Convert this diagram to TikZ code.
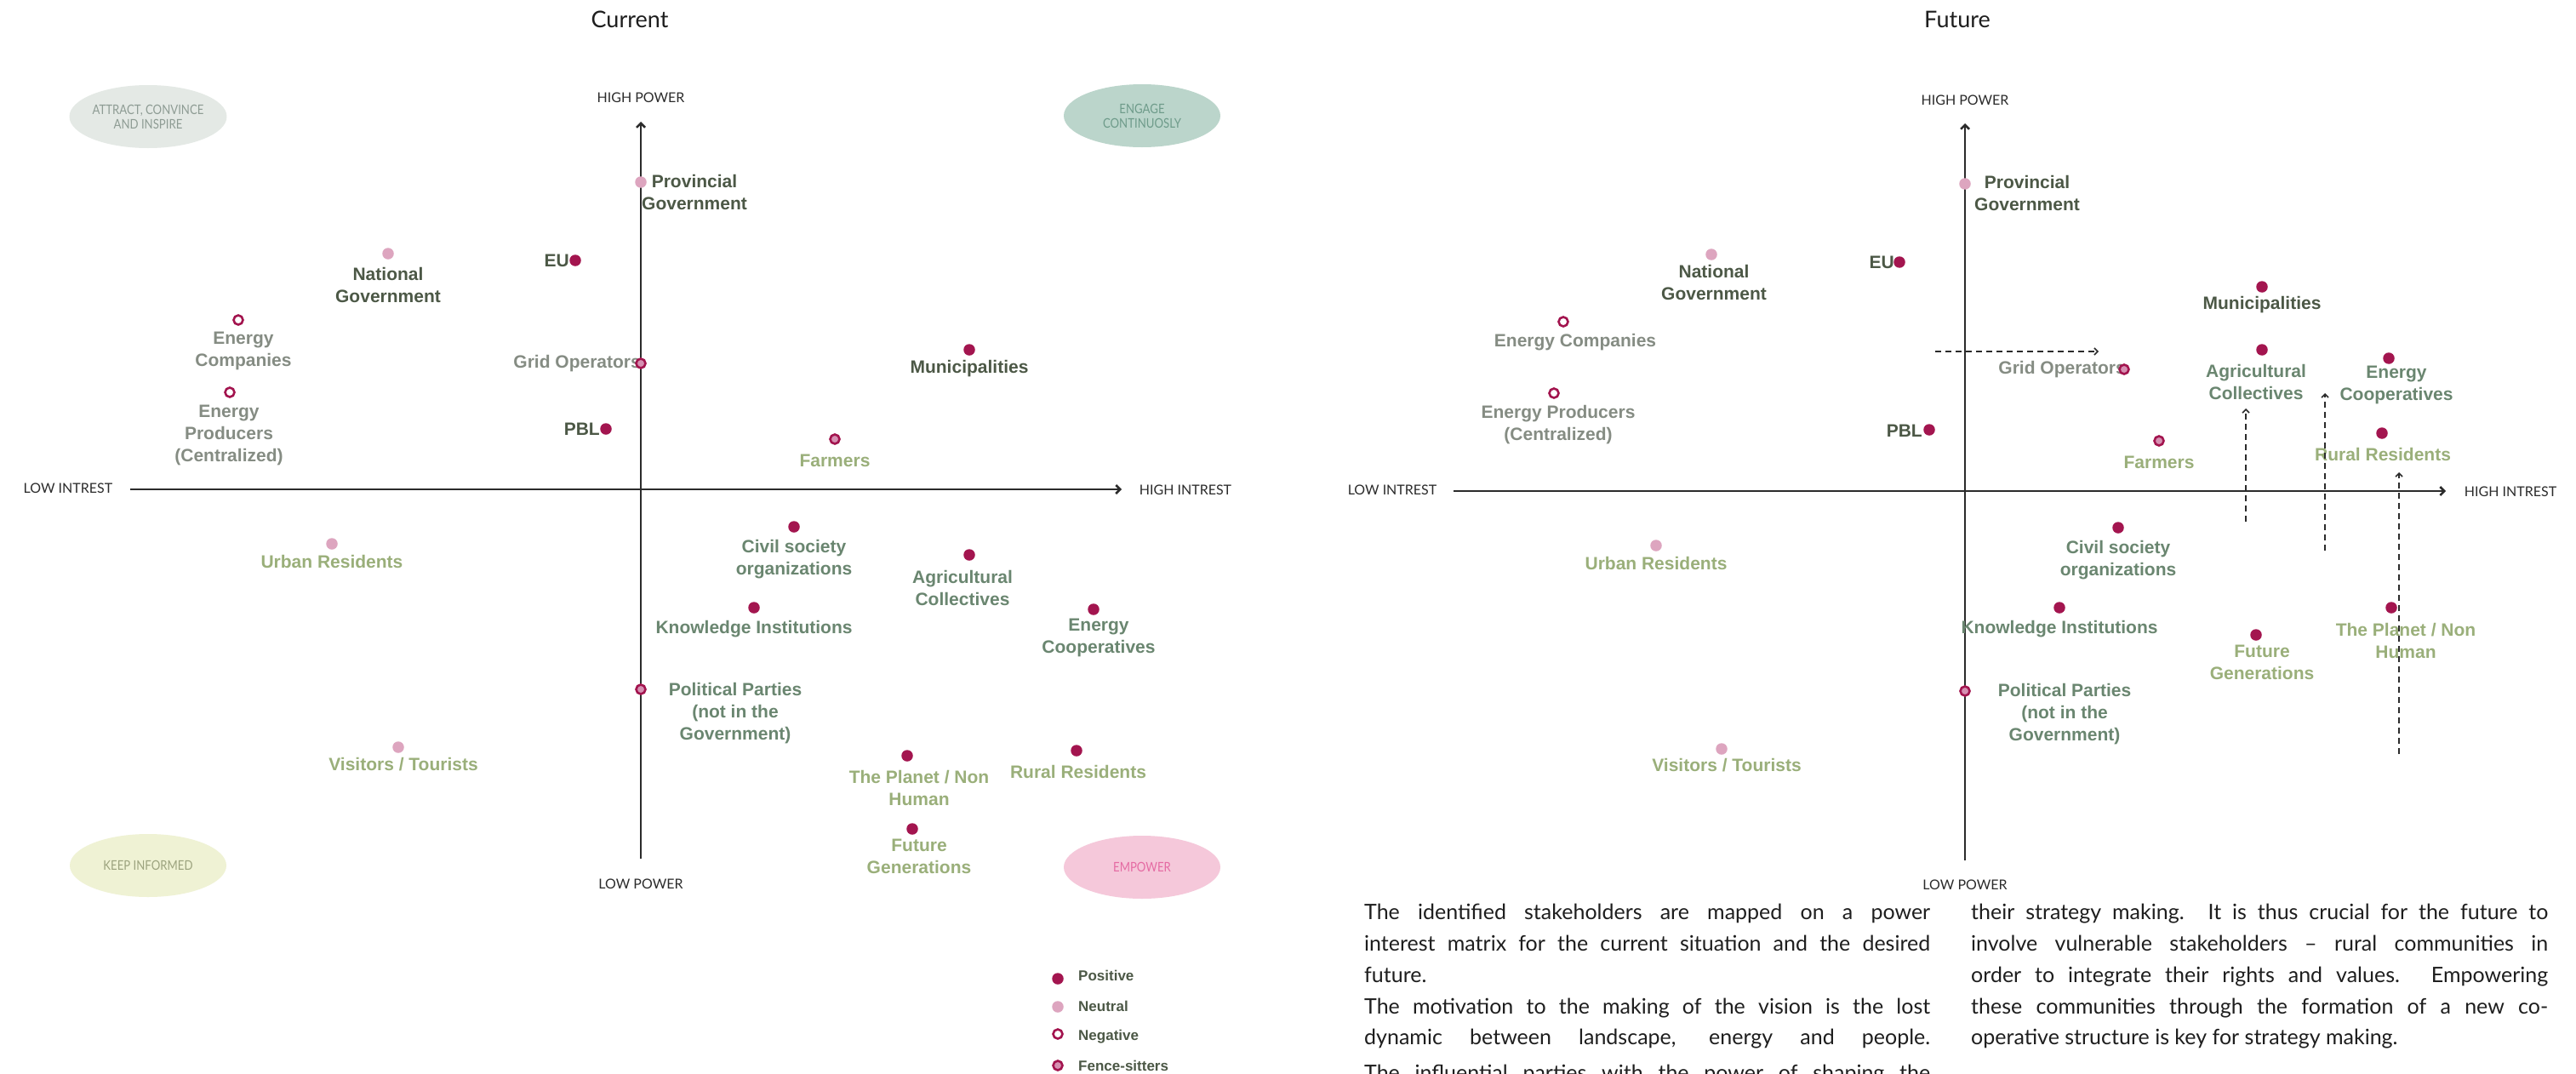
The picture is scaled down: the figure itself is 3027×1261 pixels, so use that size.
\documentclass[tikz,border=0pt]{standalone}
\usepackage{fontspec}
\setmainfont{Lato}
\newfontfamily\lab{Liberation Sans}
\newfontfamily\fut{Lato}[FakeStretch=0.85]
\usetikzlibrary{arrows.meta,shapes.geometric}
\definecolor{cpos}{HTML}{A3154F}
\definecolor{cneu}{HTML}{DDA5BF}
\definecolor{cfen}{HTML}{D690B2}
\definecolor{ldark}{HTML}{4C5846}
\definecolor{lgray}{HTML}{858C83}
\definecolor{lmed}{HTML}{6A8670}
\definecolor{llight}{HTML}{9AAF7A}
\definecolor{axisc}{HTML}{2B2B2B}
\definecolor{bodyc}{HTML}{1E1E1E}
\definecolor{eAfill}{HTML}{E4E9E5}
\definecolor{eAtext}{HTML}{8E9C94}
\definecolor{eBfill}{HTML}{BBD5CB}
\definecolor{eBtext}{HTML}{6E9B8A}
\definecolor{eCfill}{HTML}{EFF2D4}
\definecolor{eCtext}{HTML}{9CA37E}
\definecolor{eDfill}{HTML}{F5C8DA}
\definecolor{eDtext}{HTML}{E56BA3}
\begin{document}
\begin{tikzpicture}[x=1pt,y=-1pt,
  dotpos/.style={circle,fill=cpos,minimum size=13.5pt,inner sep=0pt},
  dotneu/.style={circle,fill=cneu,minimum size=13.5pt,inner sep=0pt},
  dotneg/.style={circle,draw=cpos,fill=white,line width=2.6pt,minimum size=11pt,inner sep=0pt},
  dotfen/.style={circle,draw=cpos,fill=cfen,line width=2.6pt,minimum size=11pt,inner sep=0pt},
  lbl/.style={font=\lab\bfseries\fontsize{21}{26}\selectfont,align=center,inner sep=0pt},
  tdark/.style={text=ldark},
  tgray/.style={text=lgray},
  tmed/.style={text=lmed},
  tlight/.style={text=llight},
  ttl/.style={font=\fontsize{27}{30}\selectfont,text=bodyc,inner sep=0pt},
  axislbl/.style={font=\fontsize{16}{18}\selectfont,text=axisc,inner sep=0pt},
  axisline/.style={draw=axisc,line width=2.5pt,-{Straight Barb[length=5pt,width=10pt]}},
  dasharrow/.style={draw=axisc,line width=1.6pt,dash pattern=on 7pt off 5pt,-{Straight Barb[length=4pt,width=8pt]}},
  quadell/.style={ellipse,minimum width=184pt,minimum height=74pt,inner sep=0pt,align=center,font=\fut\fontsize{15.5}{17}\selectfont},
  bodytxt/.style={font=\fontsize{25}{30}\selectfont,inner sep=0pt,anchor=mid west,text=bodyc},
  legl/.style={font=\lab\bfseries\fontsize{17}{20}\selectfont,text=ldark,anchor=west,inner sep=0pt}
]
\useasboundingbox (0,0) rectangle (3027,1261);
\fill[white] (0,0) rectangle (3027,1261);

% ---------------- titles ----------------
\node[ttl] (tCur) at (740,23) {Current};
\node[ttl] (tFut) at (2300,23) {Future};

% ---------------- quadrant ellipses ----------------
\node[quadell,fill=eAfill,text=eAtext] (qA) at (174,137) {ATTRACT, CONVINCE\\AND INSPIRE};
\node[quadell,fill=eBfill,text=eBtext] (qB) at (1342,136) {ENGAGE\\CONTINUOSLY};
\node[quadell,fill=eCfill,text=eCtext] (qC) at (174,1017) {KEEP INFORMED};
\node[quadell,fill=eDfill,text=eDtext] (qD) at (1342,1019) {EMPOWER};

% ---------------- axes: current ----------------
\coordinate (cVb) at (753,1009);
\coordinate (cVt) at (753,143);
\coordinate (cHl) at (153,575);
\coordinate (cHr) at (1318,575);
\draw[axisline] (cVb) -- (cVt);
\draw[axisline] (cHl) -- (cHr);
\node[axislbl] (cHP) at (753,115) {HIGH POWER};
\node[axislbl] (cLP) at (753,1039) {LOW POWER};
\node[axislbl] (cLI) at (80,574) {LOW INTREST};
\node[axislbl] (cHI) at (1393,576) {HIGH INTREST};

% ---------------- axes: future ----------------
\coordinate (fVb) at (2309,1011);
\coordinate (fVt) at (2309,145);
\coordinate (fHl) at (1708,577);
\coordinate (fHr) at (2874,577);
\draw[axisline] (fVb) -- (fVt);
\draw[axisline] (fHl) -- (fHr);
\node[axislbl] (fHP) at (2309,118) {HIGH POWER};
\node[axislbl] (fLP) at (2309,1040) {LOW POWER};
\node[axislbl] (fLI) at (1636,576) {LOW INTREST};
\node[axislbl] (fHI) at (2950,578) {HIGH INTREST};

% ---------------- labels: current ----------------
\node[lbl,tdark] (cPgovL) at (816,226) {Provincial\\Government};
\node[lbl,tdark,anchor=east] (cEUL) at (669,306) {EU};
\node[lbl,tdark] (cNgovL) at (456,335) {National\\Government};
\node[lbl,tgray] (cEcompL) at (286,412) {Energy\\Companies};
\node[lbl,tgray] (cEprodL) at (269,511) {Energy\\Producers\\(Centralized)};
\node[lbl,tgray,anchor=east] (cGridL) at (753,427) {Grid Operators};
\node[lbl,tdark,anchor=east] (cPblL) at (705,504) {PBL};
\node[lbl,tdark] (cMuniL) at (1139,433) {Municipalities};
\node[lbl,tlight] (cFarmL) at (981,541) {Farmers};
\node[lbl,tlight] (cUrbanL) at (390,660) {Urban Residents};
\node[lbl,tmed] (cCivilL) at (933,657) {Civil society\\organizations};
\node[lbl,tmed] (cAgriL) at (1131,691) {Agricultural\\Collectives};
\node[lbl,tmed] (cKnowL) at (886,739) {Knowledge Institutions};
\node[lbl,tmed] (cEcoopL) at (1291,749) {Energy\\Cooperatives};
\node[lbl,tmed] (cPolL) at (864,838) {Political Parties\\(not in the\\Government)};
\node[lbl,tlight] (cVisitL) at (474,898) {Visitors / Tourists};
\node[lbl,tlight] (cPlanetL) at (1080,926) {The Planet / Non\\Human};
\node[lbl,tlight] (cRuralL) at (1267,907) {Rural Residents};
\node[lbl,tlight] (cFutgenL) at (1080,1006) {Future\\Generations};

% ---------------- dots: current ----------------
\node[dotneu] (cPgov) at (753,214) {};
\node[dotpos] (cEU) at (676,306) {};
\node[dotneu] (cNgov) at (456,298) {};
\node[dotneg] (cEcomp) at (280,376) {};
\node[dotneg] (cEprod) at (270,461) {};
\node[dotfen] (cGrid) at (753,427) {};
\node[dotpos] (cPbl) at (712,504) {};
\node[dotpos] (cMuni) at (1139,411) {};
\node[dotfen] (cFarm) at (981,516) {};
\node[dotneu] (cUrban) at (390,639) {};
\node[dotpos] (cCivil) at (933,619) {};
\node[dotpos] (cAgri) at (1139,652) {};
\node[dotpos] (cKnow) at (886,714) {};
\node[dotpos] (cEcoop) at (1285,716) {};
\node[dotfen] (cPol) at (753,810) {};
\node[dotneu] (cVisit) at (468,878) {};
\node[dotpos] (cPlanet) at (1066,888) {};
\node[dotpos] (cRural) at (1265,882) {};
\node[dotpos] (cFutgen) at (1072,974) {};

% ---------------- labels: future ----------------
\node[lbl,tdark] (fPgovL) at (2382,227) {Provincial\\Government};
\node[lbl,tdark] (fNgovL) at (2014,332) {National\\Government};
\node[lbl,tdark,anchor=east] (fEUL) at (2226,308) {EU};
\node[lbl,tgray] (fEcompL) at (1851,402) {Energy Companies};
\node[lbl,tgray] (fEprodL) at (1831,499) {Energy Producers\\(Centralized)};
\node[lbl,tdark] (fMuniL) at (2658,358) {Municipalities};
\node[lbl,tgray,anchor=east] (fGridL) at (2498,434) {Grid Operators};
\node[lbl,tmed] (fAgriL) at (2651,449) {Agricultural\\Collectives};
\node[lbl,tmed] (fEcoopL) at (2816,452) {Energy\\Cooperatives};
\node[lbl,tdark,anchor=east] (fPblL) at (2259,506) {PBL};
\node[lbl,tlight] (fRuralL) at (2800,534) {Rural Residents};
\node[lbl,tlight] (fFarmL) at (2537,543) {Farmers};
\node[lbl,tlight] (fUrbanL) at (1946,662) {Urban Residents};
\node[lbl,tmed] (fCivilL) at (2489,658) {Civil society\\organizations};
\node[lbl,tmed] (fKnowL) at (2420,739) {Knowledge Institutions};
\node[lbl,tlight] (fPlanetL) at (2827,753) {The Planet / Non\\Human};
\node[lbl,tlight] (fFutgenL) at (2658,778) {Future\\Generations};
\node[lbl,tmed] (fPolL) at (2426,839) {Political Parties\\(not in the\\Government)};
\node[lbl,tlight] (fVisitL) at (2029,899) {Visitors / Tourists};

% ---------------- dots: future ----------------
\node[dotneu] (fPgov) at (2309,216) {};
\node[dotneu] (fNgov) at (2011,299) {};
\node[dotpos] (fEU) at (2232,308) {};
\node[dotneg] (fEcomp) at (1837,378) {};
\node[dotneg] (fEprod) at (1826,462) {};
\node[dotpos] (fMuni) at (2658,337) {};
\node[dotfen] (fGrid) at (2496,434) {};
\node[dotpos] (fAgri) at (2658,411) {};
\node[dotpos] (fEcoop) at (2807,421) {};
\node[dotpos] (fPbl) at (2267,505) {};
\node[dotpos] (fRural) at (2799,509) {};
\node[dotfen] (fFarm) at (2537,518) {};
\node[dotneu] (fUrban) at (1946,641) {};
\node[dotpos] (fCivil) at (2489,620) {};
\node[dotpos] (fKnow) at (2420,714) {};
\node[dotpos] (fPlanet) at (2810,714) {};
\node[dotpos] (fFutgen) at (2651,746) {};
\node[dotfen] (fPol) at (2309,812) {};
\node[dotneu] (fVisit) at (2023,880) {};

% ---------------- dashed shift arrows ----------------
\coordinate (aH0) at (2274,413);
\coordinate (aH1) at (2466,413);
\coordinate (aV10) at (2639,613);
\coordinate (aV11) at (2639,480);
\coordinate (aV20) at (2732,647);
\coordinate (aV21) at (2732,462);
\coordinate (aV30) at (2819,886);
\coordinate (aV31) at (2819,555);
\draw[dasharrow] (aH0) -- (aH1);
\draw[dasharrow] (aV10) -- (aV11);
\draw[dasharrow] (aV20) -- (aV21);
\draw[dasharrow] (aV30) -- (aV31);

% ---------------- legend ----------------
\node[dotpos] (gPos) at (1243,1150) {};
\node[dotneu] (gNeu) at (1243,1183) {};
\node[dotneg] (gNeg) at (1243,1215) {};
\node[dotfen] (gFen) at (1243,1252) {};
\node[legl] (gPosL) at (1267,1146) {Positive};
\node[legl] (gNeuL) at (1267,1182) {Neutral};
\node[legl] (gNegL) at (1267,1218) {Negative};
\node[legl] (gFenL) at (1267,1252) {Fence-sitters};

% ---------------- body text ----------------
\node[bodytxt] (tl1) at (1603,1078) {\makebox[665pt][s]{The identified stakeholders are mapped on a power}};
\node[bodytxt] (tl2) at (1603,1115) {\makebox[665pt][s]{interest matrix for the current situation and the desired}};
\node[bodytxt] (tl3) at (1603,1152) {future.};
\node[bodytxt] (tl4) at (1603,1189) {\makebox[665pt][s]{The motivation to the making of the vision is the lost}};
\node[bodytxt] (tl5) at (1603,1225) {\makebox[665pt][s]{dynamic between landscape, energy and people.}};
\node[bodytxt] (tl6) at (1603,1267) {\makebox[665pt][s]{The influential parties with the power of shaping the}};
\node[bodytxt] (tr1) at (2316,1078) {\makebox[678pt][s]{their strategy making. It is thus crucial for the future to}};
\node[bodytxt] (tr2) at (2316,1115) {\makebox[678pt][s]{involve vulnerable stakeholders – rural communities in}};
\node[bodytxt] (tr3) at (2316,1152) {\makebox[678pt][s]{order to integrate their rights and values. Empowering}};
\node[bodytxt] (tr4) at (2316,1189) {\makebox[678pt][s]{these communities through the formation of a new co-}};
\node[bodytxt] (tr5) at (2316,1225) {operative structure is key for strategy making.};
\end{tikzpicture}
\end{document}
